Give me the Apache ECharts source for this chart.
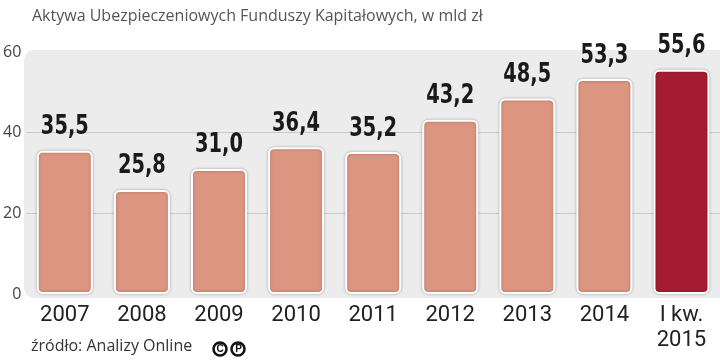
<!DOCTYPE html>
<html><head><meta charset="utf-8">
<script src="https://cdn.jsdelivr.net/npm/echarts@6/dist/echarts.min.js"></script>
<style>html,body{margin:0;padding:0;background:#fff}#c{width:720px;height:363px}</style>
</head><body><div id="c"></div>
<script>
const titleText = 'Aktywa Ubezpieczeniowych Funduszy Kapitałowych, w mld zł';
const sourceText = 'źródło: Analizy Online';
const categories = ['2007','2008','2009','2010','2011','2012','2013','2014','I kw.\n2015'];
const values = [35.5, 25.8, 31.0, 36.4, 35.2, 43.2, 48.5, 53.3, 55.6];
const highlightIndex = 8;
const yTicks = [0, 20, 40, 60];

const fmt = v => v.toFixed(1).replace('.', ',');
const chart = echarts.init(document.getElementById('c'));
chart.setOption({
  animation: false,
  title: {
    text: titleText, left: 27, top: 3,
    textStyle: {fontFamily: 'Open Sans', fontSize: 16, fontWeight: 'normal', color: '#555'}
  },
  grid: {left: 24, right: -1, top: 52, bottom: 69},
  graphic: [
    {type: 'rect', left: 24, top: 50, z: -10, shape: {width: 710, height: 248, r: 10}, style: {fill: '#ececec'}},
    {type: 'text', left: 31, top: 338, style: {text: sourceText, font: '16px "Open Sans"', fill: '#333'}},
    {type: 'circle', shape: {cx: 220, cy: 349, r: 6.5}, style: {fill: '#fff', stroke: '#111', lineWidth: 2.5}},
    {type: 'circle', shape: {cx: 238, cy: 349, r: 6.5}, style: {fill: '#fff', stroke: '#111', lineWidth: 2.5}},
    {type: 'text', x: 220, y: 349.5, style: {text: 'C', font: 'bold 10px "Liberation Sans"', fill: '#111', align: 'center', verticalAlign: 'middle'}},
    {type: 'text', x: 238.5, y: 349.5, style: {text: 'P', font: 'bold 10px "Liberation Sans"', fill: '#111', align: 'center', verticalAlign: 'middle'}}
  ],
  xAxis: {
    type: 'category', data: categories,
    axisLine: {show: false}, axisTick: {show: false},
    axisLabel: {fontFamily: 'Roboto', fontSize: 22, color: '#222', margin: 9, lineHeight: 25, interval: 0}
  },
  yAxis: {
    type: 'value', min: yTicks[0], max: yTicks[yTicks.length-1], interval: 20,
    axisLine: {show: false}, axisTick: {show: false},
    axisLabel: {fontFamily: 'Open Sans', fontSize: 16, color: '#444', margin: 5},
    splitLine: {show: true, showMinLine: false, showMaxLine: false, lineStyle: {color: '#c9c9c9', width: 1}}
  },
  series: [{
    type: 'bar', barWidth: 56,
    data: values.map((v, i) => ({
      value: v,
      itemStyle: {color: i === highlightIndex ? '#a51b32' : '#dc9581'}
    })),
    itemStyle: {borderColor: '#fff', borderWidth: 2, borderRadius: 5, shadowBlur: 3, shadowColor: 'rgba(0,0,0,0.25)'},
    label: {show: false}
  }, {
    type: 'custom',
    data: values.map((v, i) => [i, v]),
    renderItem: (params, api) => {
      const pt = api.coord([api.value(0), api.value(1)]);
      return {
        type: 'text', x: pt[0], y: pt[1] - 10, scaleX: 0.8,
        style: {text: fmt(api.value(1)), font: 'bold 27px "DejaVu Sans Condensed"', fill: '#1a1a1a', align: 'center', verticalAlign: 'bottom'}
      };
    },
    z: 5
  }]
});
</script></body></html>
